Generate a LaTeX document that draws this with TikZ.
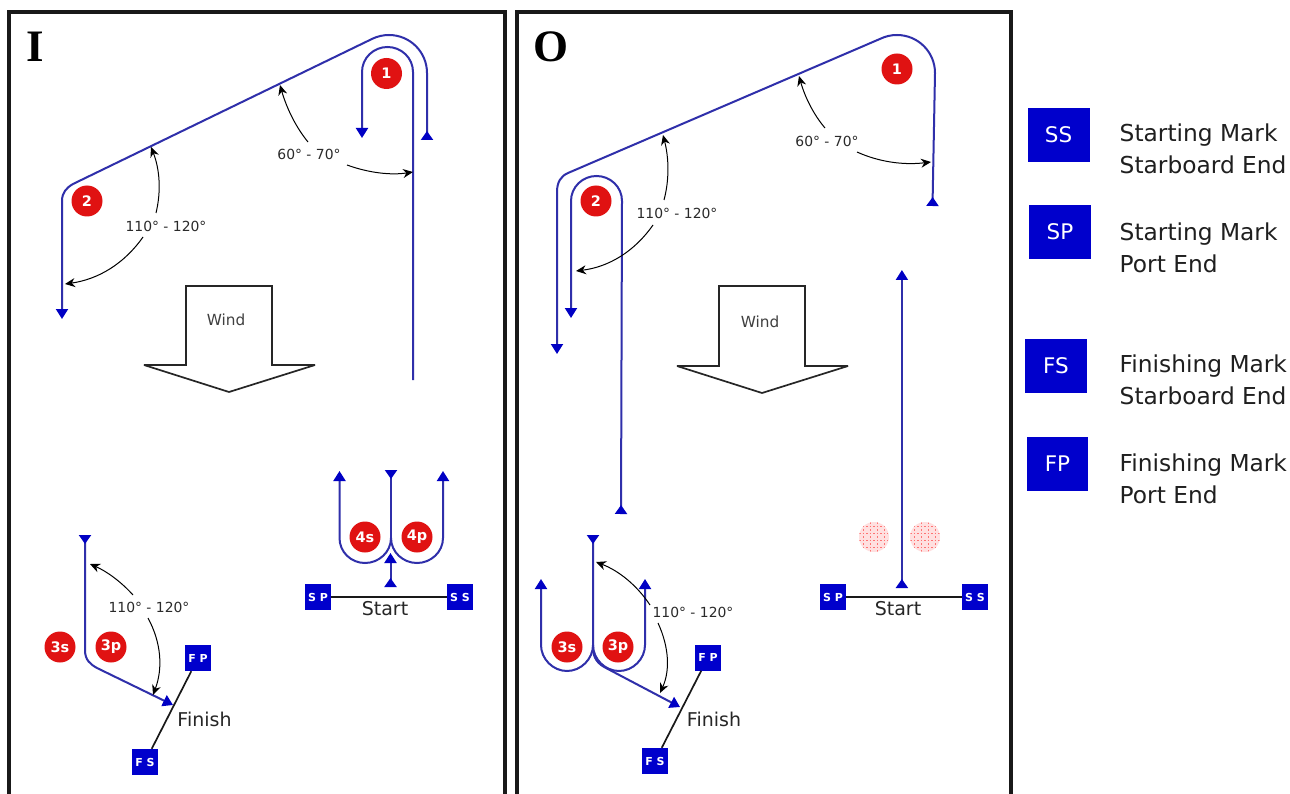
\documentclass[tikz,border=0pt]{standalone}
\usepackage{fontspec}
\setmainfont{DejaVu Sans}
\newfontfamily\titlefont{Liberation Serif}
\usetikzlibrary{arrows.meta,calc}
\definecolor{trackc}{HTML}{2F2FAA}
\definecolor{headc}{HTML}{0000C4}
\definecolor{markc}{HTML}{0000CC}
\definecolor{roundc}{HTML}{E01212}
\definecolor{txtc}{HTML}{2A2A2A}
\newcommand{\qcurve}[3]{\draw[angarrow] (#1) .. controls ($(#1)!0.667!(#2)$) and ($(#3)!0.667!(#2)$) .. (#3);}
\tikzset{
  headtip/.tip={Triangle[length=10pt,width=12pt,color=headc]},
  revtip/.tip={Triangle[reversed,length=9pt,width=12pt,color=headc]},
  frame/.style={draw=black!90,line width=4pt},
  track/.style={draw=trackc,line width=2pt},
  angarrow/.style={draw=black,line width=1pt,-{Stealth[length=10pt,width=9pt]}},
  round/.style={circle,fill=roundc,minimum size=31pt,inner sep=0pt,text=white,font=\fontsize{14.5}{14.5}\selectfont\bfseries},
  ghost/.style={circle,fill=red!12,minimum size=30pt,inner sep=0pt,
    path picture={\foreach \d in {-10.5,-3.5,3.5,10.5}{
      \draw[red!55!white,line width=0.9pt,dash pattern=on 1.5pt off 2pt] ([xshift=\d pt]path picture bounding box.north) -- ([xshift=\d pt]path picture bounding box.south);
      \draw[red!55!white,line width=0.9pt,dash pattern=on 1.5pt off 2pt] ([yshift=\d pt]path picture bounding box.west) -- ([yshift=\d pt]path picture bounding box.east);}}},
  buoy/.style={fill=markc,minimum size=26pt,inner sep=0pt,text=white,font=\fontsize{11}{11}\selectfont\bfseries},
  keybox/.style={fill=markc,minimum width=62pt,minimum height=54pt,inner sep=0pt,text=white,font=\fontsize{21.5}{21.5}\selectfont},
  keytext/.style={anchor=west,align=left,inner sep=0pt,text=black!88,font=\fontsize{23.3}{32.5}\selectfont},
  course/.style={line width=1.7pt,draw=black!90},
  anglab/.style={inner sep=0pt,text=txtc,font=\fontsize{13.9}{13.9}\selectfont},
  linelab/.style={inner sep=0pt,text=black!85,font=\fontsize{19}{19}\selectfont},
  windarrow/.style={draw=black!85,line width=1.7pt,fill=white,miter limit=2},
  windlab/.style={inner sep=0pt,text=black!75,font=\fontsize{15.3}{15.3}\selectfont},
  paneltitle/.style={inner sep=0pt,text=black,font=\titlefont\fontsize{45}{45}\selectfont\bfseries},
}
\begin{document}
\begin{tikzpicture}[x=1pt,y=-1pt]
\useasboundingbox[fill=white] (0,0) rectangle (1290,794);

% ---------- frames
\coordinate (fa1) at (9,794); \coordinate (fa2) at (9,12); \coordinate (fa3) at (505,12); \coordinate (fa4) at (505,794);
\coordinate (fb1) at (517,794); \coordinate (fb2) at (517,12); \coordinate (fb3) at (1011,12); \coordinate (fb4) at (1011,794);
\draw[frame] (fa1) -- (fa2) -- (fa3) -- (fa4);
\draw[frame] (fb1) -- (fb2) -- (fb3) -- (fb4);
\node[paneltitle] (titleI) at (35,47) {I};
\node[paneltitle] (titleO) at (551,47) {O};

% ---------- panel I: upper course
\coordinate (ia) at (413,380);
\coordinate (ib) at (362,138);
\coordinate (ic) at (427,140);
\coordinate (id) at (62,319);
\draw[track,-headtip] (ia) -- (413,72) .. controls (413,58) and (401.5,47) .. (387.5,47)
  .. controls (373.5,47) and (362,58) .. (362,72) -- (ib);
\draw[track,revtip-headtip] (ic) -- (427,73) .. controls (427,52) and (410,35) .. (389,35)
  .. controls (383.2,35) and (377.5,36.3) .. (372.3,38.8) -- (73,184)
  .. controls (66,188) and (62,193) .. (62,201) -- (id);
\node[round] (i1) at (386.5,73.5) {1};
\node[round] (i2) at (87,201) {2};

\node[anglab] (il60) at (309,154) {60° - 70°};
\node[anglab] (il110) at (166,226) {110° - 120°};
\coordinate (ia1) at (308,142); \coordinate (ia1q) at (290,120); \coordinate (ia1t) at (280,85);
\coordinate (ia2) at (347,165); \coordinate (ia2q) at (380,177); \coordinate (ia2t) at (413,172);
\coordinate (ia3) at (156,213); \coordinate (ia3q) at (164,180); \coordinate (ia3t) at (151,147);
\coordinate (ia4) at (143,237); \coordinate (ia4q) at (115,277); \coordinate (ia4t) at (65,284);
\qcurve{ia1}{ia1q}{ia1t}
\qcurve{ia2}{ia2q}{ia2t}
\qcurve{ia3}{ia3q}{ia3t}
\qcurve{ia4}{ia4q}{ia4t}

% wind I
\draw[windarrow] (186,286) -- (272,286) -- (272,365) -- (315,365) -- (229,392) -- (144,365) -- (186,365) -- cycle;
\node[windlab] (iw) at (226,320) {Wind};

% panel I: start
\node[buoy] (isp) at (318,597) {S P};
\node[buoy] (iss) at (460,597) {S S};
\draw[course] (isp) -- (iss);
\node[linelab] (ist) at (385,609) {Start};
\coordinate (ie1) at (339.5,471); \coordinate (ie2) at (391,470); \coordinate (ie3) at (443,471);
\coordinate (ie4) at (390.5,587); \coordinate (ie5) at (390.5,553);
\draw[track,-headtip] (391,538) .. controls (391,552) and (379,563) .. (365,563)
  .. controls (351,563) and (339.5,552) .. (339.5,538) -- (ie1);
\draw[track,-headtip] (391,538) .. controls (391,552) and (403,563) .. (417,563)
  .. controls (431,563) and (443,552) .. (443,538) -- (ie3);
\draw[track,revtip-] (ie2) -- (391,538);
\draw[track,revtip-headtip] (ie4) -- (ie5);
\node[round] (i4s) at (365,537) {4s};
\node[round] (i4p) at (417,537) {4p};

% panel I: finish
\node[buoy] (ifp) at (198,658) {F P};
\node[buoy] (ifs) at (145,762) {F S};
\draw[course] (ifp) -- (ifs);
\node[linelab] (ifl) at (204.5,719) {Finish};
\coordinate (if1) at (85,535); \coordinate (if2) at (173,705);
\draw[track,revtip-headtip] (if1) -- (85,650) .. controls (85,660) and (90,664) .. (97,668) -- (if2);
\node[round] (i3s) at (60,647) {3s};
\node[round] (i3p) at (111,647) {3p};
\node[anglab] (il110b) at (149,607) {110° - 120°};
\coordinate (ia5) at (133,595); \coordinate (ia5q) at (115,575); \coordinate (ia5t) at (90,564);
\coordinate (ia6) at (148,618); \coordinate (ia6q) at (168,655); \coordinate (ia6t) at (153,695);
\qcurve{ia5}{ia5q}{ia5t}
\qcurve{ia6}{ia6q}{ia6t}

% ---------- panel O: upper course
\coordinate (oa) at (932.5,206);
\coordinate (ob) at (557,354);
\coordinate (oc) at (621,514);
\coordinate (od) at (571,318);
\draw[track,revtip-headtip] (oa) -- (935,73) .. controls (935,52) and (918,35) .. (897,35)
  .. controls (891,35) and (885.5,36.3) .. (880.3,38.8) -- (568,173)
  .. controls (561,176) and (557,182) .. (557,192) -- (ob);
\draw[track,revtip-headtip] (oc) -- (622,201) .. controls (622,187) and (610.5,176) .. (596.5,176)
  .. controls (582.5,176) and (571,187) .. (571,201) -- (od);
\node[round] (o1) at (897,69) {1};
\node[round] (o2) at (596,201) {2};
\node[anglab] (ol60) at (827,141) {60° - 70°};
\node[anglab] (ol110) at (677,213) {110° - 120°};
\coordinate (oa1) at (825,128); \coordinate (oa1q) at (808,108); \coordinate (oa1t) at (799,76);
\coordinate (oa2) at (857,152); \coordinate (oa2q) at (890,167); \coordinate (oa2t) at (931,162);
\coordinate (oa3) at (664,200); \coordinate (oa3q) at (672,170); \coordinate (oa3t) at (663,135);
\coordinate (oa4) at (653,225); \coordinate (oa4q) at (625,265); \coordinate (oa4t) at (576,271);
\qcurve{oa1}{oa1q}{oa1t}
\qcurve{oa2}{oa2q}{oa2t}
\qcurve{oa3}{oa3q}{oa3t}
\qcurve{oa4}{oa4q}{oa4t}

% wind O
\draw[windarrow] (719,286) -- (805,286) -- (805,366) -- (848,366) -- (762,393) -- (677,366) -- (719,366) -- cycle;
\node[windlab] (ow) at (760,322) {Wind};

% panel O: start
\node[buoy] (osp) at (833,597) {S P};
\node[buoy] (oss) at (975,597) {S S};
\draw[course] (osp) -- (oss);
\node[linelab] (ost) at (898,609) {Start};
\coordinate (oe1) at (901.9,270); \coordinate (oe2) at (901.9,588);
\draw[track,revtip-headtip] (oe2) -- (oe1);
\node[ghost] (og1) at (874,537) {};
\node[ghost] (og2) at (925,537) {};

% panel O: finish
\node[buoy] (ofp) at (708,657.5) {F P};
\node[buoy] (ofs) at (655,761) {F S};
\draw[course] (ofp) -- (ofs);
\node[linelab] (ofl) at (714,719) {Finish};
\coordinate (of1) at (593,535); \coordinate (of2) at (680,707);
\coordinate (of3) at (541,579); \coordinate (of4) at (645,579);
\draw[track,revtip-headtip] (of1) -- (593,648) .. controls (593,658) and (598,664) .. (606,668) -- (of2);
\draw[track,-headtip] (593,645) .. controls (593,659) and (581,671) .. (567,671)
  .. controls (553,671) and (541,659) .. (541,645) -- (of3);
\draw[track,-headtip] (593,645) .. controls (593,659) and (605,671) .. (619,671)
  .. controls (633,671) and (645,659) .. (645,645) -- (of4);
\node[round] (o3s) at (567,647) {3s};
\node[round] (o3p) at (618,647) {3p};
\node[anglab] (ol110b) at (693,612) {110° - 120°};
\coordinate (oa5) at (650,605); \coordinate (oa5q) at (630,575); \coordinate (oa5t) at (596,562);
\coordinate (oa6) at (658,623); \coordinate (oa6q) at (675,660); \coordinate (oa6t) at (660,693);
\qcurve{oa5}{oa5q}{oa5t}
\qcurve{oa6}{oa6q}{oa6t}

% ---------- legend
\node[keybox] (kss) at (1058.5,135) {\raisebox{-1pt}{SS}};
\node[keybox] (ksp) at (1060,232) {\raisebox{-1pt}{SP}};
\node[keybox] (kfs) at (1056,366) {\raisebox{-1pt}{FS}};
\node[keybox,minimum width=61pt] (kfp) at (1057.5,464) {\raisebox{-1pt}{FP}};
\node[keytext] (tss) at (1119.5,149) {Starting Mark\\Starboard End};
\node[keytext] (tsp) at (1119.5,248) {Starting Mark\\Port End};
\node[keytext] (tfs) at (1119.5,380) {Finishing Mark\\Starboard End};
\node[keytext] (tfp) at (1119.5,479) {Finishing Mark\\Port End};
\end{tikzpicture}
\end{document}
